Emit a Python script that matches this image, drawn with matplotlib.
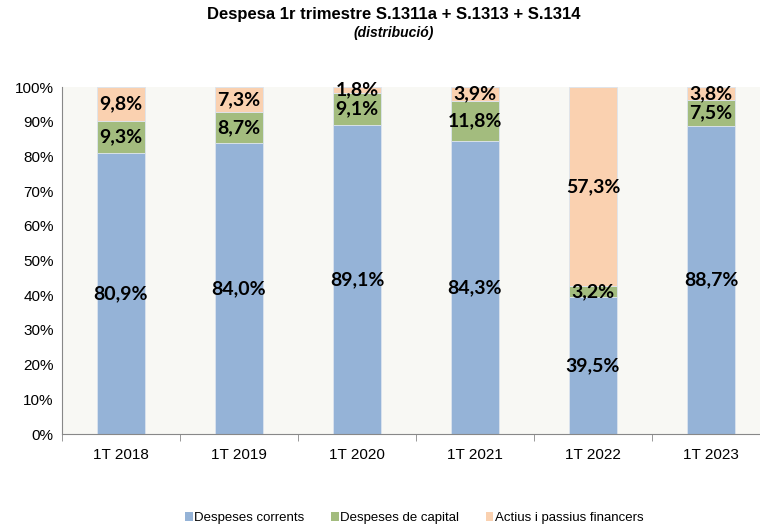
import matplotlib.pyplot as plt
import numpy as np
from matplotlib.patches import Patch

# Dades
categories = ['1T 2018', '1T 2019', '1T 2020', '1T 2021', '1T 2022', '1T 2023']
corrents = [80.9, 84.0, 89.1, 84.3, 39.5, 88.7]
capital = [9.3, 8.7, 9.1, 11.8, 3.2, 7.5]
financers = [9.8, 7.3, 1.8, 3.9, 57.3, 3.8]
series_names = ['Despeses corrents', 'Despeses de capital', 'Actius i passius financers']

colors = ['#95B3D7', '#A3BC7E', '#FAD1B0']

fig = plt.figure(figsize=(7.6, 5.3), dpi=100)
ax = fig.add_axes([62 / 760, 96 / 530, 708 / 760, 347 / 530])
ax.set_facecolor('#F8F8F4')

x = np.arange(len(categories))
width = 0.41
bottom = np.zeros(len(categories))
for vals, col in zip([corrents, capital, financers], colors):
    vals = np.array(vals)
    ax.bar(x, vals, width, bottom=bottom, color=col, edgecolor='#DCE4EE', linewidth=0.6)
    for xi, b, v in zip(x, bottom, vals):
        ax.text(xi, b + v / 2, f'{v:.1f}%'.replace('.', ','), ha='center', va='center',
                fontsize=14, fontweight='bold', family='Lato', color='black')
    bottom += vals

ax.set_xlim(-0.5, len(categories) - 0.5)
ax.set_ylim(0, 100)
ax.set_yticks(np.arange(0, 101, 10))
ax.set_yticklabels([f'{v}%' for v in range(0, 101, 10)], family='Liberation Sans', fontsize=11)
ax.set_xticks(x)
ax.set_xticklabels(categories, family='Liberation Sans', fontsize=11)
ax.tick_params(axis='x', length=0, pad=10)
ax.set_xticks(np.arange(-0.5, len(categories), 1), minor=True)
ax.tick_params(axis='x', which='minor', length=5, color='#888888', direction='out')
ax.tick_params(axis='y', length=0, pad=6)

for s in ['top', 'right']:
    ax.spines[s].set_visible(False)
ax.spines['left'].set_color('#888888')
ax.spines['bottom'].set_color('#888888')

fig.text(0.518, 0.972, 'Despesa 1r trimestre S.1311a + S.1313 + S.1314', ha='center', va='center',
         fontsize=12, fontweight='bold', family='Liberation Sans')
fig.text(0.518, 0.938, '(distribució)', ha='center', va='center',
         fontsize=10, fontweight='bold', style='italic', family='Liberation Sans')

handles = [Patch(facecolor=c, edgecolor='none') for c in colors]
fig.legend(handles, series_names, loc='center', bbox_to_anchor=(0.545, 0.022), ncol=3,
           frameon=False, handlelength=0.6, handleheight=0.6, handletextpad=0.1,
           columnspacing=2.0, prop={'family': 'Liberation Sans', 'size': 9.5})

fig.savefig('out.png', dpi=100)
